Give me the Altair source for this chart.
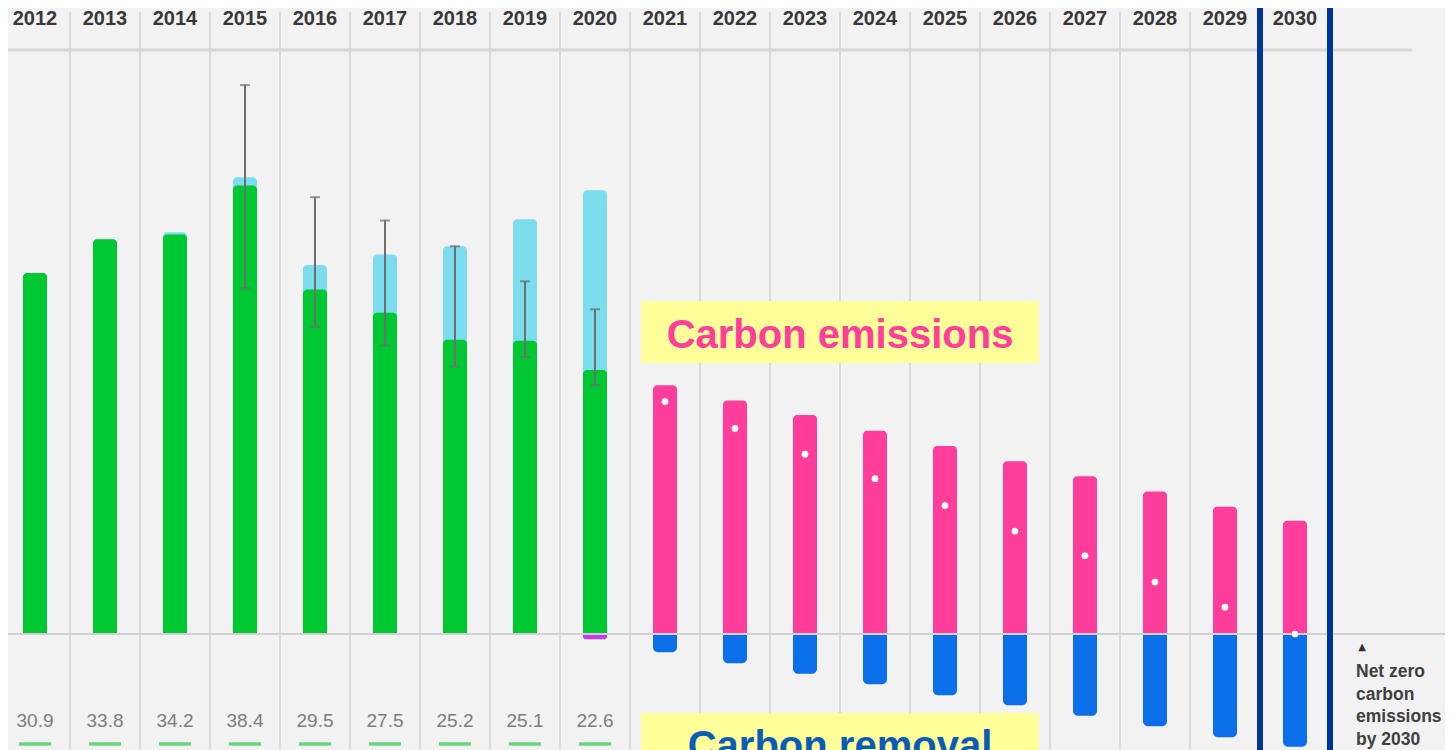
import altair as alt
import pandas as pd

# ---------------- data ----------------
years_all = list(range(2012, 2031))
years_hist = list(range(2012, 2021))
green_vals = [30.9, 33.8, 34.2, 38.4, 29.5, 27.5, 25.2, 25.1, 22.6]
cyan_tops = [30.9, 33.8, 34.4, 39.1, 31.6, 32.5, 33.2, 35.5, 38.0]
err_years = [2015, 2016, 2017, 2018, 2019, 2020]
err_high = [47.0, 37.4, 35.4, 33.2, 30.2, 27.8]
err_low = [29.6, 26.3, 24.7, 22.9, 23.7, 21.3]
purple_years = [2020]
purple_vals = [-0.45]
years_future = list(range(2021, 2031))
emissions = [21.3, 20.0, 18.75, 17.4, 16.1, 14.8, 13.5, 12.2, 10.9, 9.7]
removal = [-1.57, -2.5, -3.4, -4.3, -5.25, -6.1, -7.0, -7.9, -8.85, -9.65]
net_vals = [19.9, 17.6, 15.4, 13.3, 11.0, 8.8, 6.7, 4.45, 2.3, 0.0]
grid_bounds = [2012.5, 2013.5, 2014.5, 2015.5, 2016.5, 2017.5, 2018.5, 2019.5,
               2020.5, 2021.5, 2022.5, 2023.5, 2024.5, 2025.5, 2026.5, 2027.5, 2028.5]
highlight_bounds = [2029.5, 2030.5]
header_line_value = [50]
baseline_value = [0]
net_zero_lines = ["Net zero", "carbon", "emissions", "by 2030"]
net_zero_py = [669, 691.5, 714, 736.5]

W, H = 1437, 742
FONT = "Liberation Sans"

hist = pd.DataFrame({"year": years_hist, "green": green_vals, "cyan": cyan_tops,
                     "zero": [0] * len(years_hist),
                     "label": [f"{v:.1f}" for v in green_vals]})
err = pd.DataFrame({"year": err_years, "hi": err_high, "lo": err_low})
purple = pd.DataFrame({"year": purple_years, "v": purple_vals, "zero": [0]})
fut = pd.DataFrame({"year": years_future, "em": emissions, "rm": removal,
                    "net": net_vals, "zero": [0] * len(years_future)})
allyears = pd.DataFrame({"year": years_all, "label": [str(y) for y in years_all]})
grid = pd.DataFrame({"x": grid_bounds})
hl = pd.DataFrame({"x": highlight_bounds})
hdr = pd.DataFrame({"v": header_line_value})
bsl = pd.DataFrame({"v": baseline_value})
nz = pd.DataFrame({"t": net_zero_lines, "py": net_zero_py})

xs = alt.Scale(domain=[2011.6143, 2032.1429], nice=False, zero=False, padding=0)
ys = alt.Scale(domain=[-9.931, 53.596], nice=False, zero=False, padding=0)

def X(field):
    return alt.X(field, type="quantitative", scale=xs, axis=None)

def Y(field):
    return alt.Y(field, type="quantitative", scale=ys, axis=None)

base_one = pd.DataFrame({"a": [0]})

grid_l = alt.Chart(grid).mark_rule(color="#d9d9d9", strokeWidth=2).encode(
    x=X("x"), y=alt.value(4), y2=alt.value(H))

header_line = alt.Chart(hdr).mark_rule(color="#d6d6d6", strokeWidth=3).encode(
    x=alt.value(0), x2=alt.value(1404), y=Y("v"))

cyan_l = alt.Chart(hist).mark_bar(size=24, color="#7adcec", cornerRadiusTopLeft=4,
                                  cornerRadiusTopRight=4).encode(
    x=X("year"), y=Y("cyan"), y2="zero")
green_l = alt.Chart(hist).mark_bar(size=24, color="#00c832", cornerRadiusTopLeft=4,
                                   cornerRadiusTopRight=4).encode(
    x=X("year"), y=Y("green"), y2="zero")
purple_l = alt.Chart(purple).mark_bar(size=24, color="#c23de6", cornerRadiusBottomLeft=3,
                                      cornerRadiusBottomRight=3).encode(
    x=X("year"), y=Y("zero"), y2="v")

pink_l = alt.Chart(fut).mark_bar(size=24, color="#ff3d9a", cornerRadiusTopLeft=4,
                                 cornerRadiusTopRight=4).encode(
    x=X("year"), y=Y("em"), y2="zero")
blue_l = alt.Chart(fut).mark_bar(size=24, color="#0a6fe8", cornerRadiusBottomLeft=5,
                                 cornerRadiusBottomRight=5).encode(
    x=X("year"), y=Y("zero"), y2="rm")

err_rule = alt.Chart(err).mark_rule(color="#6e6e6e", strokeWidth=2).encode(
    x=X("year"), y=Y("lo"), y2="hi")
err_cap_hi = alt.Chart(err).mark_tick(color="#6e6e6e", orient="horizontal", size=10,
                                      thickness=2).encode(x=X("year"), y=Y("hi"))
err_cap_lo = alt.Chart(err).mark_tick(color="#6e6e6e", orient="horizontal", size=10,
                                      thickness=2).encode(x=X("year"), y=Y("lo"))

baseline = alt.Chart(bsl).mark_rule(color="#d0d0d0", strokeWidth=2).encode(
    x=alt.value(0), x2=alt.value(W), y=Y("v"))

dots = alt.Chart(fut).mark_circle(color="white", opacity=1, size=45).encode(
    x=X("year"), y=Y("net"))

hl_l = alt.Chart(hl).mark_rule(color="#003399", strokeWidth=6).encode(
    x=X("x"), y=alt.value(0), y2=alt.value(H))

header_txt = alt.Chart(allyears).mark_text(font=FONT, fontSize=20, fontWeight="bold",
                                           color="#383838", baseline="middle").encode(
    x=X("year"), y=alt.value(11), text="label:N")

bottom_txt = alt.Chart(hist).mark_text(font=FONT, fontSize=19, color="#7d7d7d",
                                       baseline="middle").encode(
    x=X("year"), y=alt.value(713), text="label:N")

dashes = alt.Chart(hist).mark_tick(color="#2ecc4a", orient="horizontal", size=32,
                                   thickness=3.5).encode(x=X("year"), y=alt.value(736))

em_box = alt.Chart(base_one).mark_rect(color="#ffff99").encode(
    x=alt.value(633), x2=alt.value(1031), y=alt.value(293), y2=alt.value(355))
em_txt = alt.Chart(pd.DataFrame({"t": ["Carbon emissions"]})).mark_text(
    font=FONT, fontSize=40, fontWeight="bold", color="#ff3d9a", align="center",
    baseline="alphabetic").encode(x=alt.value(832), y=alt.value(340), text="t:N")

rm_box = alt.Chart(base_one).mark_rect(color="#ffff99").encode(
    x=alt.value(633), x2=alt.value(1031), y=alt.value(705), y2=alt.value(H + 20))
rm_txt = alt.Chart(pd.DataFrame({"t": ["Carbon removal"]})).mark_text(
    font=FONT, fontSize=40, fontWeight="bold", color="#0a5cb8", align="center",
    baseline="alphabetic").encode(x=alt.value(832), y=alt.value(751), text="t:N")

tri = alt.Chart(pd.DataFrame({"t": ["▲"]})).mark_text(
    font="DejaVu Sans", fontSize=10, color="#333333", align="center",
    baseline="middle").encode(x=alt.value(1354), y=alt.value(639), text="t:N")
nz_txt = alt.Chart(nz).mark_text(
    font=FONT, fontSize=17.5, fontWeight="bold", color="#404040", align="left",
    baseline="alphabetic").encode(
    x=alt.value(1348), y=alt.Y("py:Q", scale=None, axis=None), text="t:N")

chart = alt.layer(
    grid_l, header_line, cyan_l, green_l, purple_l, pink_l, blue_l,
    baseline, err_rule, err_cap_hi, err_cap_lo, dots, hl_l,
    header_txt, bottom_txt, dashes, em_box, em_txt, rm_box, rm_txt, tri, nz_txt
).properties(
    width=W, height=H, background="#f2f2f2", padding=0,
    autosize=alt.AutoSizeParams(type="none")
).configure_view(strokeWidth=0)

chart.save("out.html", embed_options={"renderer": "svg", "actions": False})
